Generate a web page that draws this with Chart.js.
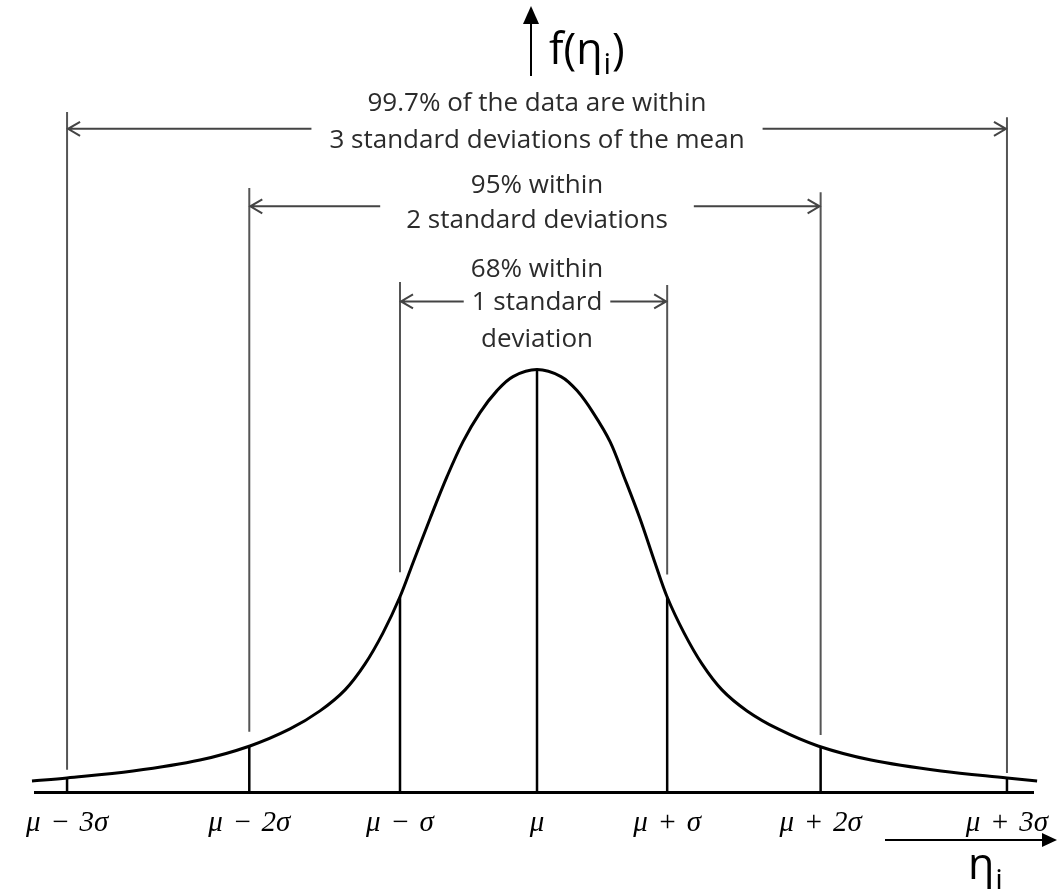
<!DOCTYPE html>
<html>
<head>
<meta charset="utf-8">
<script src="https://cdn.jsdelivr.net/npm/chart.js@4.4.1/dist/chart.umd.min.js"></script>
<style>
  html, body { margin: 0; padding: 0; background: #fff; }
</style>
</head>
<body>
<canvas id="normChart" width="1057" height="889"></canvas>
<script>
// σ marks along η (μ = 0), spaced as on the sheet
const markPos = [-3.43, -2.10, -1.00, 0, 0.95, 2.07, 3.43];
const markLabels = ['μ\u2004−\u20043σ', 'μ\u2004−\u20042σ', 'μ\u2004−\u2004σ', 'μ', 'μ\u2004+\u2004σ', 'μ\u2004+\u20042σ', 'μ\u2004+\u20043σ'];
// f(η) where each mark meets the curve
const markHeight = [0.0133, 0.0436, 0.185, 0.40, 0.185, 0.0427, 0.0133];
// grey guide lines above the curve (lower and upper end, in f units)
const guideBottom = [0.021, 0.057, 0.208, null, 0.206, 0.054, 0.018];
const guideTop = [0.644, 0.572, 0.483, null, 0.480, 0.568, 0.639];

// density curve f(η)
const curveX = [-3.686, -3.431, -2.949, -2.460, -2.095, -1.803, -1.584, -1.401, -1.255, -1.124,
  -1.000, -0.905, -0.781, -0.657, -0.540, -0.416, -0.292, -0.175, 0,
  0.175, 0.292, 0.409, 0.533, 0.635, 0.752, 0.861, 0.949, 1.073, 1.204, 1.350, 1.533,
  1.759, 2.051, 2.438, 2.949, 3.431, 3.650];
const curveY = [0.0104, 0.0133, 0.0199, 0.0303, 0.0436, 0.0597, 0.0768, 0.0967, 0.1213, 0.1507,
  0.1849, 0.2171, 0.2588, 0.2986, 0.3318, 0.3593, 0.3801, 0.3934, 0.400,
  0.3934, 0.3801, 0.3593, 0.3318, 0.2986, 0.2588, 0.2171, 0.1849, 0.1507, 0.1213, 0.0967, 0.0768,
  0.0597, 0.0436, 0.0303, 0.0199, 0.0133, 0.0104];

// bracket captions
const bandText = [
  ['99.7% of the data are within', '3 standard deviations of the mean'],
  ['95% within', '2 standard deviations'],
  ['68% within', '1 standard', 'deviation']
];
const bandFrom = [0, 1, 2];
const bandTo = [6, 5, 4];

// caption layout: text line centres, arrow row (f units) and gap next to the text (px)
const bandLayout = [
  { textY: [0.652, 0.617], arrowY: 0.628, arrowLine: 1, gap: 18 },
  { textY: [0.5745, 0.541], arrowY: 0.5546, arrowLine: 1, gap: 26 },
  { textY: [0.495, 0.4636, 0.4285], arrowY: 0.4645, arrowLine: 1, gap: 8 }
];

function arrowLine(ctx, x1, y1, x2, y2) {
  const dir = Math.sign(x2 - x1);
  ctx.beginPath();
  ctx.moveTo(x1, y1);
  ctx.lineTo(x2, y2);
  ctx.moveTo(x2 - dir * 12, y2 - 7);
  ctx.lineTo(x2, y2);
  ctx.lineTo(x2 - dir * 12, y2 + 7);
  ctx.stroke();
}

const annotate = {
  id: 'annotate',
  afterDatasetsDraw(chart) {
    const { ctx, scales: { x, y } } = chart;
    const cx = x.getPixelForValue(0);
    ctx.save();
    ctx.font = '26px "Open Sans"';
    ctx.fillStyle = '#2b2b2b';
    ctx.strokeStyle = '#444';
    ctx.lineWidth = 2;
    ctx.textAlign = 'center';
    ctx.textBaseline = 'middle';
    bandText.forEach((lines, i) => {
      const lay = bandLayout[i];
      lines.forEach((t, k) => ctx.fillText(t, cx, y.getPixelForValue(lay.textY[k])));
      const ay = y.getPixelForValue(lay.arrowY);
      const half = ctx.measureText(lines[lay.arrowLine]).width / 2 + lay.gap;
      arrowLine(ctx, cx - half, ay, x.getPixelForValue(markPos[bandFrom[i]]) + 1, ay);
      arrowLine(ctx, cx + half, ay, x.getPixelForValue(markPos[bandTo[i]]) - 1, ay);
    });
    ctx.restore();
  },
  afterDraw(chart) {
    const { ctx, scales: { x }, chartArea, width } = chart;
    const cx = x.getPixelForValue(0);
    ctx.save();
    ctx.fillStyle = '#000';
    ctx.strokeStyle = '#000';
    ctx.lineWidth = 2;

    // f(η) axis arrow
    const ax = cx - 6;
    ctx.beginPath();
    ctx.moveTo(ax, 76);
    ctx.lineTo(ax, 20);
    ctx.stroke();
    ctx.beginPath();
    ctx.moveTo(ax, 6);
    ctx.lineTo(ax - 8, 24);
    ctx.lineTo(ax + 8, 24);
    ctx.closePath();
    ctx.fill();

    ctx.textBaseline = 'alphabetic';
    ctx.textAlign = 'left';
    let tx = cx + 12;
    ctx.font = '43px "Open Sans"';
    ctx.fillText('f(η', tx, 64);
    tx += ctx.measureText('f(η').width + 1;
    ctx.font = '30px "Open Sans"';
    ctx.fillText('i', tx, 74);
    tx += ctx.measureText('i').width + 1;
    ctx.font = '43px "Open Sans"';
    ctx.fillText(')', tx, 64);

    // η axis arrow
    const ay = chartArea.bottom + 48;
    ctx.beginPath();
    ctx.moveTo(chartArea.right - 148, ay);
    ctx.lineTo(width - 12, ay);
    ctx.stroke();
    ctx.beginPath();
    ctx.moveTo(width, ay);
    ctx.lineTo(width - 15, ay - 7);
    ctx.lineTo(width - 15, ay + 7);
    ctx.closePath();
    ctx.fill();

    tx = chartArea.right - 65;
    ctx.font = '43px "Open Sans"';
    ctx.fillText('η', tx, ay + 39);
    tx += ctx.measureText('η').width + 1;
    ctx.font = '30px "Open Sans"';
    ctx.fillText('i', tx, ay + 50);
    ctx.restore();
  }
};

new Chart(document.getElementById('normChart'), {
  type: 'line',
  data: {
    datasets: [
      {
        data: curveX.map((v, i) => ({ x: v, y: curveY[i] })),
        borderColor: '#000',
        borderWidth: 3,
        pointRadius: 0,
        tension: 0.35,
        fill: false,
        clip: false
      },
      {
        data: markPos.flatMap((p, i) => [{ x: p, y: 0 }, { x: p, y: markHeight[i] }, { x: p, y: null }]),
        borderColor: '#000',
        borderWidth: 2.5,
        pointRadius: 0,
        spanGaps: false
      },
      {
        data: markPos.flatMap((p, i) => guideTop[i] == null ? [] :
          [{ x: p, y: guideBottom[i] }, { x: p, y: guideTop[i] }, { x: p, y: null }]),
        borderColor: '#555',
        borderWidth: 2,
        pointRadius: 0,
        spanGaps: false
      }
    ]
  },
  options: {
    responsive: false,
    animation: false,
    layout: { padding: { left: 35, right: 24, top: 0, bottom: 35 } },
    plugins: { legend: { display: false }, tooltip: { enabled: false } },
    scales: {
      x: {
        type: 'linear',
        min: -3.664,
        max: 3.620,
        afterBuildTicks: (scale) => { scale.ticks = markPos.map(v => ({ value: v })); },
        grid: { display: false, drawTicks: false },
        border: { display: true, color: '#000', width: 3 },
        ticks: {
          autoSkip: false,
          maxRotation: 0,
          padding: 0,
          color: '#000',
          font: { family: 'Liberation Serif', style: 'italic', size: 29, lineHeight: '62px' },
          callback: (v, i) => markLabels[i]
        }
      },
      y: { display: false, min: 0, max: 0.75 }
    }
  },
  plugins: [annotate]
});
</script>
</body>
</html>
